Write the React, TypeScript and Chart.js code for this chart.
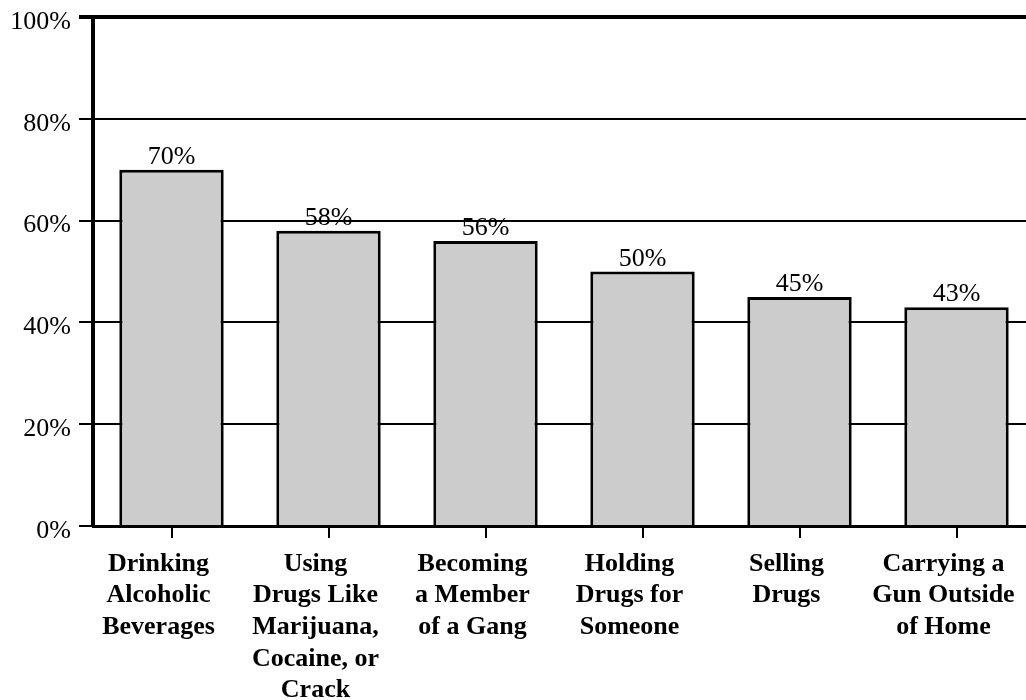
import { useEffect, useRef } from "react";
import { Chart, registerables } from "chart.js";

Chart.register(...registerables);

const categories: string[][] = [
  ["Drinking", "Alcoholic", "Beverages"],
  ["Using", "Drugs Like", "Marijuana,", "Cocaine, or", "Crack"],
  ["Becoming", "a Member", "of a Gang"],
  ["Holding", "Drugs for", "Someone"],
  ["Selling", "Drugs"],
  ["Carrying a", "Gun Outside", "of Home"],
];
const values: number[] = [70, 58, 56, 50, 45, 43];
const yMin = 0;
const yMax = 100;
const yStep = 20;

const SERIF = "'Liberation Serif', 'Times New Roman', serif";

const valueLabels = {
  id: "valueLabels",
  afterDatasetsDraw(chart: any) {
    const ctx = chart.ctx;
    const meta = chart.getDatasetMeta(0);
    ctx.save();
    ctx.font = `26px ${SERIF}`;
    ctx.fillStyle = "#000";
    ctx.textAlign = "center";
    ctx.textBaseline = "alphabetic";
    meta.data.forEach((bar: any, i: number) => {
      ctx.fillText(`${values[i]}%`, bar.x, bar.y - 6);
    });
    ctx.restore();
  },
};

export default function App() {
  const ref = useRef<HTMLCanvasElement | null>(null);
  useEffect(() => {
    if (!ref.current) return;
    const chart = new Chart(ref.current, {
      type: "bar",
      data: {
        labels: categories,
        datasets: [
          {
            data: values,
            backgroundColor: "#cccccc",
            borderColor: "#000000",
            borderWidth: 3,
            categoryPercentage: 1,
            barPercentage: 0.665,
          },
        ],
      },
      options: {
        responsive: false,
        animation: false,
        layout: { padding: { left: 0, right: 5, top: 17, bottom: 0 } },
        plugins: {
          legend: { display: false },
          tooltip: { enabled: false },
          title: { display: false },
        },
        scales: {
          x: {
            grid: {
              offset: false,
              drawOnChartArea: false,
              drawTicks: true,
              tickLength: 12,
              color: "#000",
              lineWidth: 2,
            },
            border: { display: true, color: "#000", width: 3 },
            ticks: {
              color: "#000",
              font: { family: SERIF, size: 26, weight: "bold", lineHeight: 1.22 },
              padding: 10,
              labelOffset: -13,
              maxRotation: 0,
              minRotation: 0,
              autoSkip: false,
            },
            afterFit(scale: any) {
              scale.height = 174;
            },
          },
          y: {
            min: yMin,
            max: yMax,
            grid: {
              color: "#000",
              lineWidth: (c: any) => (c.tick && c.tick.value === yMax ? 4 : 2),
              tickLength: 14,
            },
            border: { display: true, color: "#000", width: 4 },
            ticks: {
              stepSize: yStep,
              color: "#000",
              font: { family: SERIF, size: 26, lineHeight: 0.6 },
              padding: 8,
              labelOffset: 5,
              callback: (v: any) => `${v}%`,
            },
            afterFit(scale: any) {
              scale.width = 93;
            },
          },
        },
      },
      plugins: [valueLabels],
    });
    return () => chart.destroy();
  }, []);
  return (
    <div
      style={{
        position: "absolute",
        left: 0,
        top: 0,
        width: 1026,
        height: 700,
        overflow: "hidden",
        background: "#fff",
      }}
    >
      <canvas ref={ref} width={1040} height={700} style={{ display: "block" }} />
    </div>
  );
}
